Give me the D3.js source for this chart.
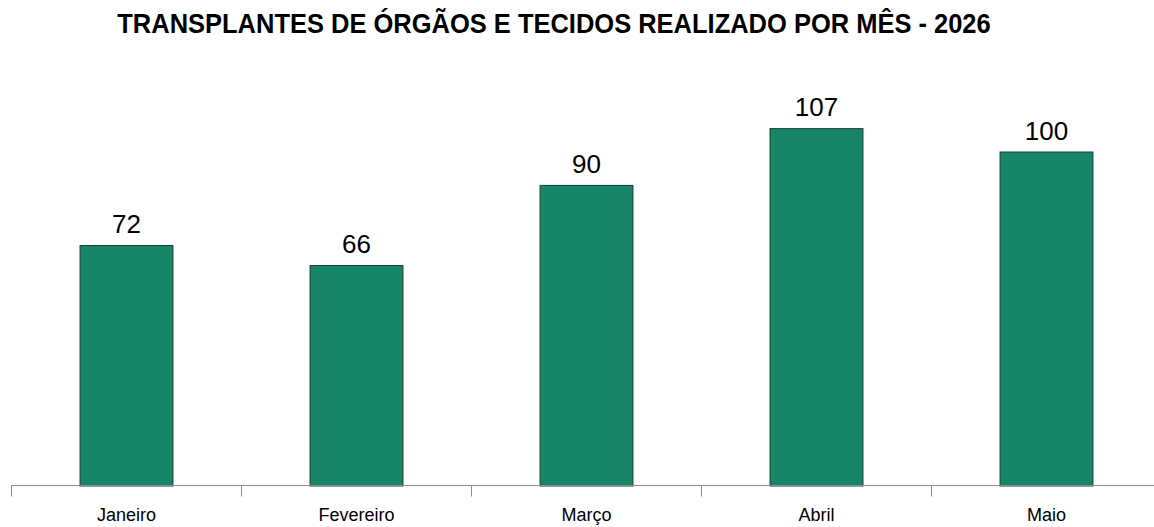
<!DOCTYPE html>
<html><head><meta charset="utf-8">
<script src="https://cdn.jsdelivr.net/npm/d3@7"></script>
<style>body{margin:0;background:#fff}svg{display:block}</style>
</head><body>
<svg id="c" width="1154" height="527"></svg>
<script>
const title = "TRANSPLANTES DE ÓRGÃOS E TECIDOS REALIZADO POR MÊS - 2026";
const months = ["Janeiro","Fevereiro","Março","Abril","Maio"];
const values = [72,66,90,107,100];

const svg = d3.select("#c");
const font = "'Liberation Sans', Arial, sans-serif";
const x = d3.scaleBand().domain(months).range([11,1161]).padding(0);
const y = d3.scaleLinear().domain([0,120]).range([485.5, 485.5-120*3.34]);
const bw = x.bandwidth()*0.404;

svg.append("text").attr("text-anchor","middle")
  .attr("transform","translate(554,33) scale(1,1.08)")
  .attr("font-family",font).attr("font-weight","bold").attr("font-size",25.5)
  .attr("fill","#000").text(title);

svg.selectAll("rect.bar").data(values).join("rect").attr("class","bar")
  .attr("x",(d,i)=>x(months[i])+(x.bandwidth()-bw)/2+0.5)
  .attr("y",d=>y(d)+0.5).attr("width",bw).attr("height",d=>y(0)-y(d))
  .attr("fill","#178568").attr("stroke","#1b3d30").attr("stroke-width",1);

const ax = d3.axisBottom(x).tickSize(0).tickFormat(()=>"");
const g = svg.append("g").attr("transform",`translate(0,${y(0)})`).call(ax);
g.select(".domain").attr("stroke","#8c8c8c").attr("d",`M11,0H1161`);
const bounds = months.map(m=>x(m)).concat([x.range()[1]]);
svg.selectAll("line.tk").data(bounds).join("line").attr("class","tk")
  .attr("x1",d=>d+0.5).attr("x2",d=>d+0.5).attr("y1",y(0)).attr("y2",y(0)+11)
  .attr("stroke","#8c8c8c").attr("stroke-width",1);

svg.selectAll("text.cat").data(months).join("text").attr("class","cat")
  .attr("x",d=>x(d)+x.bandwidth()/2+0.5).attr("y",521).attr("text-anchor","middle")
  .attr("font-family",font).attr("font-size",18).attr("fill","#000").text(d=>d);

svg.selectAll("text.val").data(values).join("text").attr("class","val")
  .attr("x",(d,i)=>x(months[i])+x.bandwidth()/2+0.5).attr("y",d=>y(d)-12).attr("text-anchor","middle")
  .attr("font-family",font).attr("font-size",26).attr("fill","#000").text(d=>d);
</script>
</body></html>
